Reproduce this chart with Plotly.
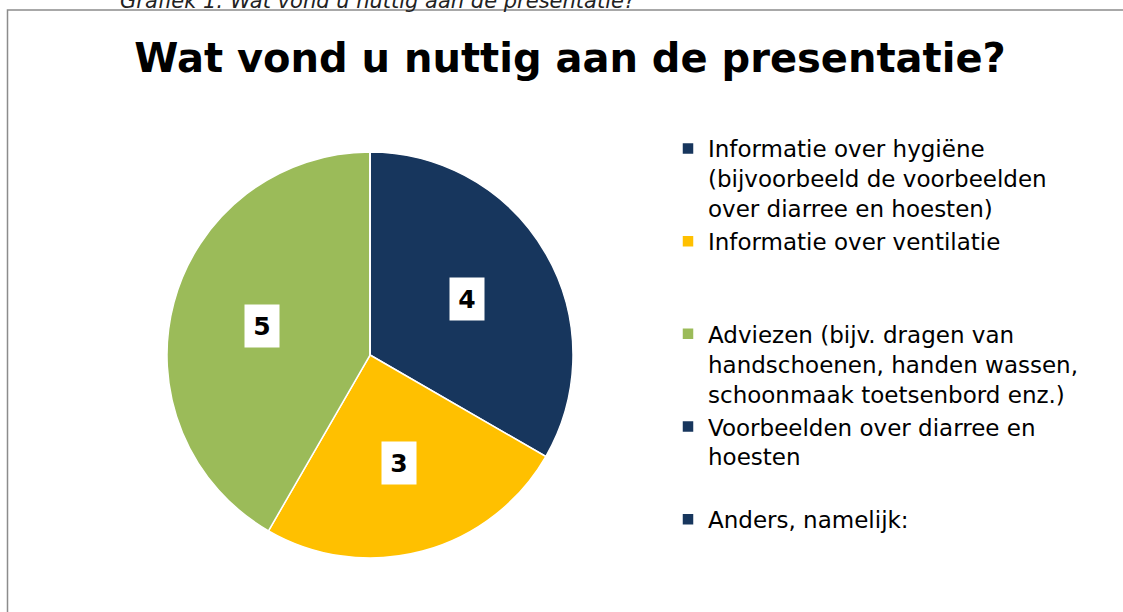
import math
import plotly.graph_objects as go

# antwoorden op de vraag (grafiek 1)
categories = [
    "Informatie over hygiëne<br>(bijvoorbeeld de voorbeelden<br>over diarree en hoesten)",
    "Informatie over ventilatie",
    "Adviezen (bijv. dragen van<br>handschoenen, handen wassen,<br>schoonmaak toetsenbord enz.)",
    "Voorbeelden over diarree en<br>hoesten",
    "Anders, namelijk:",
]
counts = [4, 3, 5, 0, 0]
colors = ["#17365D", "#FFC000", "#9BBB59", "#17365D", "#17365D"]

title = "Wat vond u nuttig aan de presentatie?"
caption = "Grafiek 1: Wat vond u nuttig aan de presentatie?"

W, H = 1123, 612
FONT = "DejaVu Sans"

# elke legenda-regel krijgt drie regels hoogte, zoals in Excel
legend_text = []
for i, lab in enumerate(categories):
    n = lab.count("<br>") + 1
    pad = 0 if i == len(categories) - 1 else 3 - n
    legend_text.append(lab + "<br>\u00a0" * pad)

# pie positie in pixels
cx, cy, R = 370, 355, 203
dom_x = [(cx - R) / W, (cx + R) / W]
dom_y = [(H - cy - R) / H, (H - cy + R) / H]

fig = go.Figure()
fig.add_trace(go.Pie(
    labels=legend_text,
    values=counts,
    sort=False,
    direction="clockwise",
    rotation=0,
    marker=dict(colors=colors, line=dict(color="white", width=1.5)),
    textinfo="none",
    hoverinfo="label+value",
    domain=dict(x=dom_x, y=dom_y),
))

# waardelabels in witte vakjes
total = sum(counts)
start = 0
for v in counts:
    if v > 0:
        mid = (start + v / 2) / total * 2 * math.pi
        rf = 0.55
        px = cx + rf * R * math.sin(mid)
        py = cy - rf * R * math.cos(mid)
        fig.add_annotation(
            x=px / W, y=1 - py / H, xref="paper", yref="paper",
            xanchor="center", yanchor="middle",
            text=f"<b>{v}</b>", showarrow=False,
            font=dict(family=FONT, size=25, color="black"),
            bgcolor="white", width=32, height=40,
        )
    start += v

# onderschrift (deels buiten beeld)
fig.add_annotation(
    x=377 / W, y=1 - 15 / H, xref="paper", yref="paper",
    xanchor="center", yanchor="bottom",
    text=f"<i>{caption}</i>", showarrow=False,
    font=dict(family=FONT, size=21, color="#222222"),
)

# kader van de grafiek (loopt rechts en onder buiten beeld)
fig.add_shape(
    type="rect", xref="paper", yref="paper",
    x0=7.5 / W, x1=1.1, y0=-0.1, y1=1 - 10 / H,
    line=dict(color="#8c8c8c", width=1.5),
    fillcolor="rgba(0,0,0,0)", layer="below",
)

fig.update_layout(
    width=W, height=H,
    margin=dict(l=0, r=0, t=0, b=0),
    paper_bgcolor="white",
    plot_bgcolor="white",
    title=dict(
        text=f"<b>{title}</b>",
        x=570 / W, xanchor="center", xref="paper",
        y=1 - 58 / H, yanchor="middle", yref="paper",
        font=dict(family=FONT, size=40, color="black"),
    ),
    showlegend=True,
    legend=dict(
        x=668 / W, y=1 - 127 / H, xanchor="left", yanchor="top",
        valign="top",
        font=dict(family=FONT, size=23, color="black"),
        itemwidth=30,
        bgcolor="rgba(0,0,0,0)",
        traceorder="normal",
    ),
)

fig.write_html(
    "out.html",
    config={"displayModeBar": False},
    post_script="document.body.style.margin='0';document.body.style.overflow='hidden';",
)
